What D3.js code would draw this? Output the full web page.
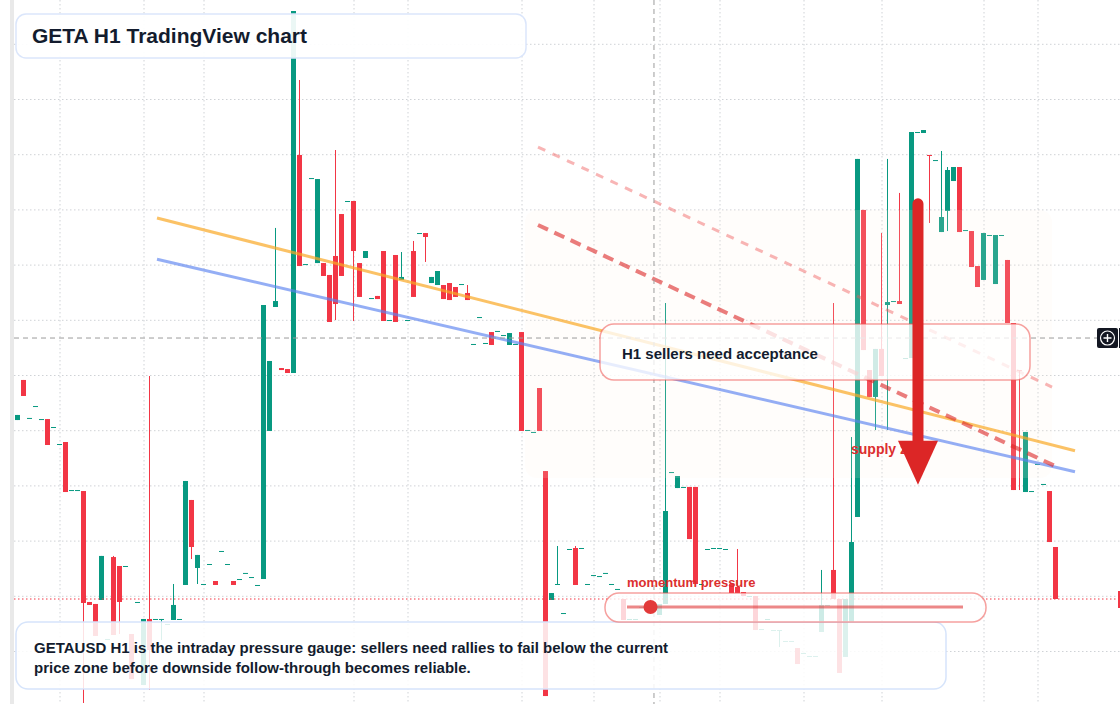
<!DOCTYPE html>
<html>
<head>
<meta charset="utf-8">
<script src="https://cdn.jsdelivr.net/npm/d3@7/dist/d3.min.js"></script>
<style>
  html, body { margin: 0; padding: 0; background: #fff; }
  svg { display: block; font-family: 'Liberation Sans', Arial, sans-serif; }
</style>
</head>
<body>
<div id="chart"></div>
<script>
// GETA H1 candles, one per hour (price units)
const opens = [
  40.92, 44.55, 41.11, 42.19, 41.01, 41.01, 40.29, 38.75, 38.93, 34.58,
  34.58, 34.49, 24.44, 24.26, 24.62, 21.09, 28.51, 27.70, 27.70, 21.54,
  24.44, 16.92, 22.90, 22.90, 22.90, 22.45, 22.81, 22.90, 25.98, 33.68,
  27.52, 26.07, 27.88, 26.34, 29.06, 27.88, 26.34, 26.52, 27.07, 26.70,
  25.98, 26.52, 39.93, 51.16, 45.63, 45.54, 45.18, 64.93, 55.05, 62.84,
  55.14, 55.14, 54.06, 55.78, 59.58, 60.76, 60.76, 55.14, 55.60, 51.97,
  52.16, 56.23, 49.98, 55.87, 53.61, 49.98, 56.23, 57.86, 57.86, 53.33,
  53.15, 53.15, 53.33, 52.97, 53.24, 52.43, 47.81, 50.25, 47.90, 48.89,
  48.99, 48.62, 47.72, 47.81, 48.89, 40.02, 39.84, 43.82, 36.30, 24.62,
  26.07, 23.44, 29.24, 29.33, 29.33, 26.07, 26.88, 26.79, 27.07, 26.07,
  25.62, 24.71, 22.90, 22.90, 23.99, 23.99, 23.99, 23.26, 24.26, 36.21,
  34.76, 34.86, 34.86, 34.86, 26.07, 29.24, 29.33, 29.33, 29.24, 26.07,
  25.80, 25.34, 24.98, 24.98, 21.99, 22.90, 21.90, 21.90, 20.91, 20.91,
  20.27, 19.82, 19.55, 19.55, 21.72, 24.17, 27.34, 24.71, 19.46, 22.63,
  32.14, 59.95, 45.45, 43.01, 47.36, 51.34, 51.70, 51.70, 46.54, 46.54,
  67.01, 66.92, 64.93, 64.47, 57.95, 59.86, 62.57, 63.84, 58.13, 58.04,
  54.87, 53.61, 57.68, 53.24, 57.68, 55.42, 49.71, 45.45, 34.40, 34.49,
  36.94, 35.13, 34.49, 29.42
]
const highs = [
  41.38, 44.55, 41.11, 42.19, 41.01, 41.01, 40.29, 38.75, 38.93, 34.58,
  34.58, 34.49, 24.44, 24.26, 28.61, 21.09, 28.61, 27.70, 27.70, 21.54,
  24.44, 22.90, 44.91, 22.90, 22.90, 22.45, 26.07, 22.90, 35.40, 33.68,
  28.70, 26.07, 27.88, 26.34, 29.06, 27.88, 26.34, 26.52, 27.07, 26.70,
  25.98, 51.34, 46.27, 58.32, 45.63, 45.54, 77.97, 71.72, 55.05, 62.84,
  62.75, 55.14, 54.06, 65.38, 59.58, 60.76, 60.76, 55.14, 56.23, 51.97,
  52.16, 56.23, 49.98, 55.87, 56.14, 49.98, 57.14, 57.86, 57.86, 53.88,
  54.42, 53.15, 53.33, 52.97, 53.24, 53.15, 47.81, 50.25, 47.90, 48.89,
  48.99, 48.62, 48.80, 47.81, 48.89, 40.02, 39.84, 43.82, 36.30, 25.25,
  29.51, 23.44, 29.24, 29.51, 29.33, 26.07, 26.88, 26.79, 27.07, 26.07,
  25.62, 24.71, 22.90, 22.90, 23.99, 23.99, 23.99, 24.26, 51.52, 36.21,
  35.85, 34.86, 34.86, 34.86, 26.07, 29.24, 29.33, 29.33, 29.24, 26.07,
  29.24, 25.34, 24.98, 24.98, 21.99, 22.90, 21.90, 21.90, 20.91, 20.91,
  20.27, 19.82, 19.55, 19.55, 27.34, 24.17, 51.52, 24.71, 24.71, 39.38,
  64.57, 59.95, 45.45, 47.36, 57.86, 64.57, 51.70, 61.49, 46.54, 67.01,
  67.01, 67.19, 64.93, 64.47, 65.29, 63.84, 63.84, 63.84, 58.13, 58.04,
  54.87, 57.86, 57.68, 57.68, 57.68, 55.42, 49.71, 45.45, 39.84, 34.49,
  36.94, 35.13, 34.49, 29.42
]
const lows = [
  40.92, 43.10, 41.11, 42.19, 41.01, 38.66, 40.29, 38.75, 34.40, 34.58,
  34.58, 15.29, 24.17, 21.36, 24.62, 21.09, 21.45, 21.54, 27.70, 17.46,
  24.44, 16.92, 16.47, 22.90, 21.00, 22.45, 22.81, 22.90, 25.98, 28.33,
  26.07, 26.07, 27.88, 25.98, 29.06, 27.88, 25.98, 26.52, 27.07, 26.70,
  25.98, 26.52, 39.93, 51.16, 45.45, 45.18, 45.18, 54.87, 55.05, 62.84,
  55.14, 53.97, 49.80, 49.98, 53.97, 60.76, 49.89, 52.07, 55.60, 51.97,
  51.88, 49.89, 49.98, 49.80, 53.61, 49.98, 52.07, 57.86, 55.24, 53.33,
  53.15, 51.88, 51.79, 52.07, 53.24, 51.79, 47.81, 50.25, 47.90, 47.72,
  48.99, 48.62, 47.72, 47.81, 39.93, 40.02, 39.84, 39.93, 15.92, 24.62,
  26.07, 23.44, 29.24, 25.98, 29.33, 26.07, 26.88, 26.79, 27.07, 26.07,
  25.62, 22.81, 22.90, 22.90, 23.99, 23.99, 23.99, 23.26, 24.26, 36.21,
  34.76, 34.86, 30.14, 26.07, 26.07, 29.24, 29.33, 29.33, 29.24, 25.25,
  25.25, 24.98, 24.98, 21.90, 21.99, 22.90, 21.90, 20.36, 20.91, 20.91,
  18.82, 19.82, 19.55, 19.55, 21.72, 24.17, 24.71, 18.01, 19.46, 22.63,
  32.14, 47.26, 43.01, 40.02, 44.91, 40.02, 51.70, 51.43, 46.54, 46.54,
  67.01, 66.92, 58.77, 64.47, 57.95, 58.04, 62.57, 57.95, 58.13, 54.78,
  52.97, 53.61, 57.68, 53.24, 57.68, 49.71, 34.58, 34.58, 34.40, 34.49,
  36.94, 35.13, 29.87, 24.71
]
const closes = [
  41.38, 43.10, 41.11, 42.19, 41.01, 38.66, 40.29, 38.75, 34.40, 34.58,
  34.58, 24.35, 24.17, 21.36, 28.61, 21.09, 21.45, 24.44, 27.70, 17.46,
  24.44, 22.90, 20.09, 22.90, 22.90, 22.45, 24.17, 22.90, 35.40, 29.42,
  28.70, 26.07, 27.88, 25.98, 29.06, 27.88, 25.98, 26.52, 27.07, 26.70,
  25.98, 51.34, 46.27, 51.70, 45.45, 45.18, 77.97, 54.87, 55.05, 62.84,
  62.75, 53.97, 49.80, 51.43, 53.97, 60.76, 56.23, 52.07, 56.23, 51.97,
  51.88, 49.89, 49.98, 49.80, 53.88, 49.98, 52.07, 57.86, 57.50, 53.88,
  54.42, 51.88, 51.79, 52.07, 53.24, 51.79, 47.81, 50.25, 47.90, 47.72,
  48.99, 48.62, 48.80, 47.81, 39.93, 40.02, 39.84, 39.93, 15.92, 25.25,
  26.07, 23.44, 29.24, 25.98, 29.33, 26.07, 26.88, 26.79, 27.07, 26.07,
  25.62, 22.81, 22.90, 22.90, 23.99, 23.99, 23.99, 24.26, 32.68, 36.21,
  35.85, 34.86, 30.14, 26.07, 26.07, 29.24, 29.33, 29.33, 29.24, 25.25,
  25.25, 24.98, 24.98, 21.90, 21.99, 22.90, 21.90, 21.90, 20.91, 20.91,
  18.82, 19.82, 19.55, 19.55, 24.17, 24.17, 24.71, 18.01, 24.71, 29.87,
  64.57, 47.26, 43.01, 47.36, 44.91, 51.61, 51.70, 51.43, 46.54, 67.01,
  67.01, 67.19, 64.90, 64.47, 59.31, 63.57, 63.84, 57.95, 58.13, 54.78,
  52.97, 57.86, 57.68, 57.68, 57.68, 49.71, 34.58, 45.42, 39.84, 34.49,
  36.94, 35.13, 29.87, 24.71
]

const priceTicks = [20, 25, 30, 35, 40, 45, 50, 55, 60, 65, 70, 75]
const timeTicks = [7, 21, 31, 56, 65, 84, 96, 107, 117, 131, 144, 161, 170]

// drawings, in [bar index, price]
const orangeTrend = [[23.25, 59.22], [176.25, 38.14]]
const blueTrend = [[23.25, 55.48], [176.25, 36.24]]
const redChannel = [[86.75, 58.59], [172.92, 36.76]]
const redChannelUpper = [[86.75, 65.65], [172.42, 43.91]]
const supplyZone = { from: 84.58, to: 172.42, top: 59.95, bottom: 35.67 }
const crosshair = { index: 106.08, price: 48.35 }
const arrow = { index: 150.08, from: 61.0, to: 35.05 }
const momentum = 0.07

const WIDTH = 1120
const HEIGHT = 704
const UP = '#089981'
const DOWN = '#f23645'

const svg = d3.select('#chart')
  .append('svg')
  .attr('width', WIDTH)
  .attr('height', HEIGHT)

svg.append('rect').attr('width', WIDTH).attr('height', HEIGHT).attr('fill', '#fff')

const x = d3.scaleLinear().domain([0, opens.length - 1]).range([17.5, 1055.5])
const y = d3.scaleLinear().domain([15, 75]).range([706.2, 43.8])

// grid
const hGrid = svg.append('g')
  .attr('transform', 'translate(14,0)')
  .call(d3.axisRight(y).tickValues(priceTicks).tickSize(WIDTH - 14).tickFormat(''))
hGrid.select('.domain').remove()
hGrid.selectAll('line').attr('stroke', '#cfd2d6').attr('stroke-dasharray', '1.5,2.5')

const vGrid = svg.append('g')
  .call(d3.axisBottom(x).tickValues(timeTicks).tickSize(HEIGHT).tickFormat(''))
vGrid.select('.domain').remove()
vGrid.selectAll('line').attr('stroke', '#cfd2d6').attr('stroke-dasharray', '1.5,2.5')

// left scale strip
svg.append('rect').attr('x', 10).attr('y', 0).attr('width', 4).attr('height', HEIGHT).attr('fill', '#e9e9e9')

// candles
const bars = opens.map((o, i) => ({ i, o, h: highs[i], l: lows[i], c: closes[i] }))
const candle = svg.append('g').selectAll('g').data(bars).enter().append('g')

candle.append('line')
  .attr('x1', d => x(d.i)).attr('x2', d => x(d.i))
  .attr('y1', d => y(d.h)).attr('y2', d => y(d.l))
  .attr('stroke', d => d.c >= d.o ? UP : DOWN)
  .attr('stroke-width', 1)

candle.append('rect')
  .attr('x', d => x(d.i) - 2.5)
  .attr('width', 5)
  .attr('y', d => y(Math.max(d.o, d.c)))
  .attr('height', d => Math.max(1, Math.abs(y(d.o) - y(d.c))))
  .attr('fill', d => d.c >= d.o ? UP : DOWN)

// supply zone
svg.append('rect')
  .attr('x', x(supplyZone.from)).attr('y', y(supplyZone.top))
  .attr('width', x(supplyZone.to) - x(supplyZone.from))
  .attr('height', y(supplyZone.bottom) - y(supplyZone.top))
  .attr('rx', 12)
  .attr('fill', 'rgb(255,240,230)').attr('fill-opacity', 0.14)

const seg = (pts, color, w, dash) => {
  svg.append('line')
    .attr('x1', x(pts[0][0])).attr('y1', y(pts[0][1]))
    .attr('x2', x(pts[1][0])).attr('y2', y(pts[1][1]))
    .attr('stroke', color).attr('stroke-width', w)
    .attr('stroke-dasharray', dash || null)
}
seg(orangeTrend, 'rgba(249,168,37,0.7)', 3)
seg(blueTrend, 'rgba(90,130,240,0.65)', 3)
seg(redChannelUpper, 'rgba(239,90,90,0.45)', 3, '8,8')
seg(redChannel, 'rgba(220,38,38,0.6)', 4, '11,7')

// crosshair + last price line
svg.append('line')
  .attr('x1', x(crosshair.index)).attr('x2', x(crosshair.index))
  .attr('y1', 0).attr('y2', HEIGHT)
  .attr('stroke', '#9b9b9b').attr('stroke-dasharray', '5,4')
svg.append('line')
  .attr('x1', 14).attr('x2', 1097)
  .attr('y1', y(crosshair.price)).attr('y2', y(crosshair.price))
  .attr('stroke', '#9b9b9b').attr('stroke-dasharray', '5,4')
svg.append('line')
  .attr('x1', 14).attr('x2', 1118)
  .attr('y1', y(closes[closes.length - 1])).attr('y2', y(closes[closes.length - 1]))
  .attr('stroke', DOWN).attr('stroke-dasharray', '1.5,2.5')

// price-axis stubs on the right edge
svg.append('rect').attr('x', 1118).attr('y', y(closes[closes.length - 1]) - 8).attr('width', 2).attr('height', 17).attr('fill', DOWN)
svg.append('rect').attr('x', 1097).attr('y', y(crosshair.price) - 10).attr('width', 21).attr('height', 20).attr('rx', 2).attr('fill', '#131722')
svg.append('rect').attr('x', 1119).attr('y', y(crosshair.price) - 10).attr('width', 1).attr('height', 20).attr('fill', '#131722')
svg.append('circle').attr('cx', 1107.5).attr('cy', y(crosshair.price)).attr('r', 7)
  .attr('fill', 'none').attr('stroke', '#fff').attr('stroke-width', 1.2)
svg.append('path')
  .attr('d', `M1103.5,${y(crosshair.price)}h8M1107.5,${y(crosshair.price) - 4}v8`)
  .attr('stroke', '#fff').attr('stroke-width', 1.4)

// annotation boxes
const box = (bx, by, bw, bh, r, fill, stroke) =>
  svg.append('rect').attr('x', bx).attr('y', by).attr('width', bw).attr('height', bh)
    .attr('rx', r).attr('fill', fill).attr('stroke', stroke).attr('stroke-width', 1.5)

box(16, 14, 510, 44, 10, 'rgba(255,255,255,0.92)', '#dbe6fb')
box(600, 324, 430, 56, 14, 'rgba(255,255,255,0.78)', 'rgba(239,83,80,0.55)')
box(16, 622, 930, 67, 12, 'rgba(255,255,255,0.86)', '#d6e4fb')
box(605, 593, 381, 29, 14, 'rgba(255,255,255,0.8)', 'rgba(239,83,80,0.55)')

svg.append('text').attr('x', 32).attr('y', 43)
  .attr('font-size', '21px').attr('font-weight', 'bold').attr('fill', '#131c2e')
  .text('GETA H1 TradingView chart')

svg.append('text').attr('x', 622).attr('y', 359)
  .attr('font-size', '15px').attr('font-weight', 'bold').attr('fill', '#131c2e')
  .text('H1 sellers need acceptance')

const note = svg.append('text').attr('font-size', '15px').attr('font-weight', 'bold').attr('fill', '#131c2e')
note.append('tspan').attr('x', 34).attr('y', 653)
  .text('GETAUSD H1 is the intraday pressure gauge: sellers need rallies to fail below the current')
note.append('tspan').attr('x', 34).attr('y', 673)
  .text('price zone before downside follow-through becomes reliable.')

// momentum gauge
const gauge = d3.scaleLinear().domain([0, 1]).range([627, 963])
svg.append('line').attr('x1', gauge(0)).attr('x2', gauge(1)).attr('y1', 607).attr('y2', 607)
  .attr('stroke', 'rgba(220,38,38,0.55)').attr('stroke-width', 3)
svg.append('circle').attr('cx', gauge(momentum)).attr('cy', 607).attr('r', 7).attr('fill', '#e23a3a')
svg.append('text').attr('x', 627).attr('y', 587)
  .attr('font-size', '13px').attr('font-weight', 'bold').attr('fill', '#dc2f2f')
  .text('momentum pressure')

// supply zone label and arrow
svg.append('text').attr('x', 851).attr('y', 454)
  .attr('font-size', '14px').attr('font-weight', 'bold').attr('fill', '#dc2f2f')
  .text('supply zone')

const ax = x(arrow.index)
const tip = y(arrow.to)
svg.append('line').attr('x1', ax).attr('x2', ax)
  .attr('y1', y(arrow.from) + 5.5).attr('y2', tip - 40)
  .attr('stroke', '#dc2626').attr('stroke-width', 11).attr('stroke-linecap', 'round')
svg.append('path')
  .attr('d', `M${ax - 20},${tip - 44}L${ax + 20},${tip - 44}L${ax},${tip}Z`)
  .attr('fill', '#dc2626')
</script>
</body>
</html>
